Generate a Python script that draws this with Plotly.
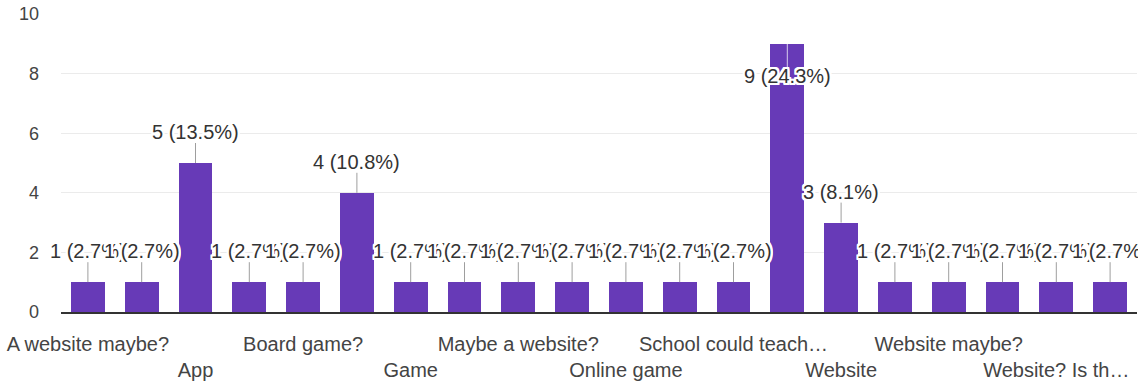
import plotly.graph_objects as go

# Responses (sorted as in the form summary)
categories = [
    "A website maybe?", "An app", "App", "App or website", "Board game?",
    "Board games", "Game", "Games", "Maybe a website?", "Maybe an app?",
    "Online game", "Poster", "School could teach…", "Video game", "Website",
    "Website and app", "Website maybe?", "Website or app", "Website? Is th…", "Workshop",
]
counts = [1, 1, 5, 1, 1, 4, 1, 1, 1, 1, 1, 1, 1, 9, 3, 1, 1, 1, 1, 1]
y_ticks = [0, 2, 4, 6, 8, 10]

BAR = "#673ab7"
FONT = "Liberation Sans, Arial, sans-serif"
HALO = ", ".join(f"{dx}px {dy}px 0 #fff" for dx in (-2, -1, 0, 1, 2)
                 for dy in (-2, -1, 0, 1, 2) if dx or dy)

total = sum(counts)
x = list(range(len(categories)))

fig = go.Figure(go.Bar(
    x=x, y=counts, width=0.63, marker=dict(color=BAR, line=dict(width=0)),
    hoverinfo="skip",
))

# every other category is labelled, alternating between two rows
tickvals = x[::2]
ticktext = [("" if i % 2 == 0 else "<br>") + categories[v] for i, v in enumerate(tickvals)]

fig.update_xaxes(
    range=[-0.5, len(categories) - 0.5], tickvals=tickvals, ticktext=ticktext,
    tickangle=0, showgrid=False, zeroline=False, showline=True,
    linecolor="#333", linewidth=1.5, ticks="", ticklabelstandoff=13,
    tickfont=dict(family=FONT, size=20, color="#444"),
)
fig.update_yaxes(
    range=[0, 10], tickvals=y_ticks, showgrid=True, gridcolor="#ebebeb",
    gridwidth=1, zeroline=False, showline=False, ticks="", ticklabelstandoff=21,
    tickfont=dict(family=FONT, size=18, color="#444"),
)

shapes = []
annotations = []
for xi, v in zip(x, counts):
    label = f"{v} ({v / total * 100:.1f}%)"
    inside = v >= 9
    shift = -32 if inside else 31
    stem_end = -24 if inside else 20
    shapes.append(dict(
        type="line", xref="x", yref="y", x0=xi, x1=xi,
        ysizemode="pixel", yanchor=v, y0=0, y1=stem_end,
        line=dict(color="rgba(255,255,255,0.75)" if inside else "#9e9e9e", width=1),
        layer="above",
    ))
    annotations.append(dict(
        x=xi, y=v, xref="x", yref="y", text=label, showarrow=False,
        yshift=shift, xanchor="center", yanchor="middle",
        font=dict(family=FONT, size=20, color="#333", shadow=HALO),
    ))

fig.update_layout(
    width=1138, height=382, margin=dict(l=61, r=1, t=14, b=62),
    paper_bgcolor="white", plot_bgcolor="white", showlegend=False,
    shapes=shapes, annotations=annotations, bargap=0,
)

fig.write_html("out.html")
